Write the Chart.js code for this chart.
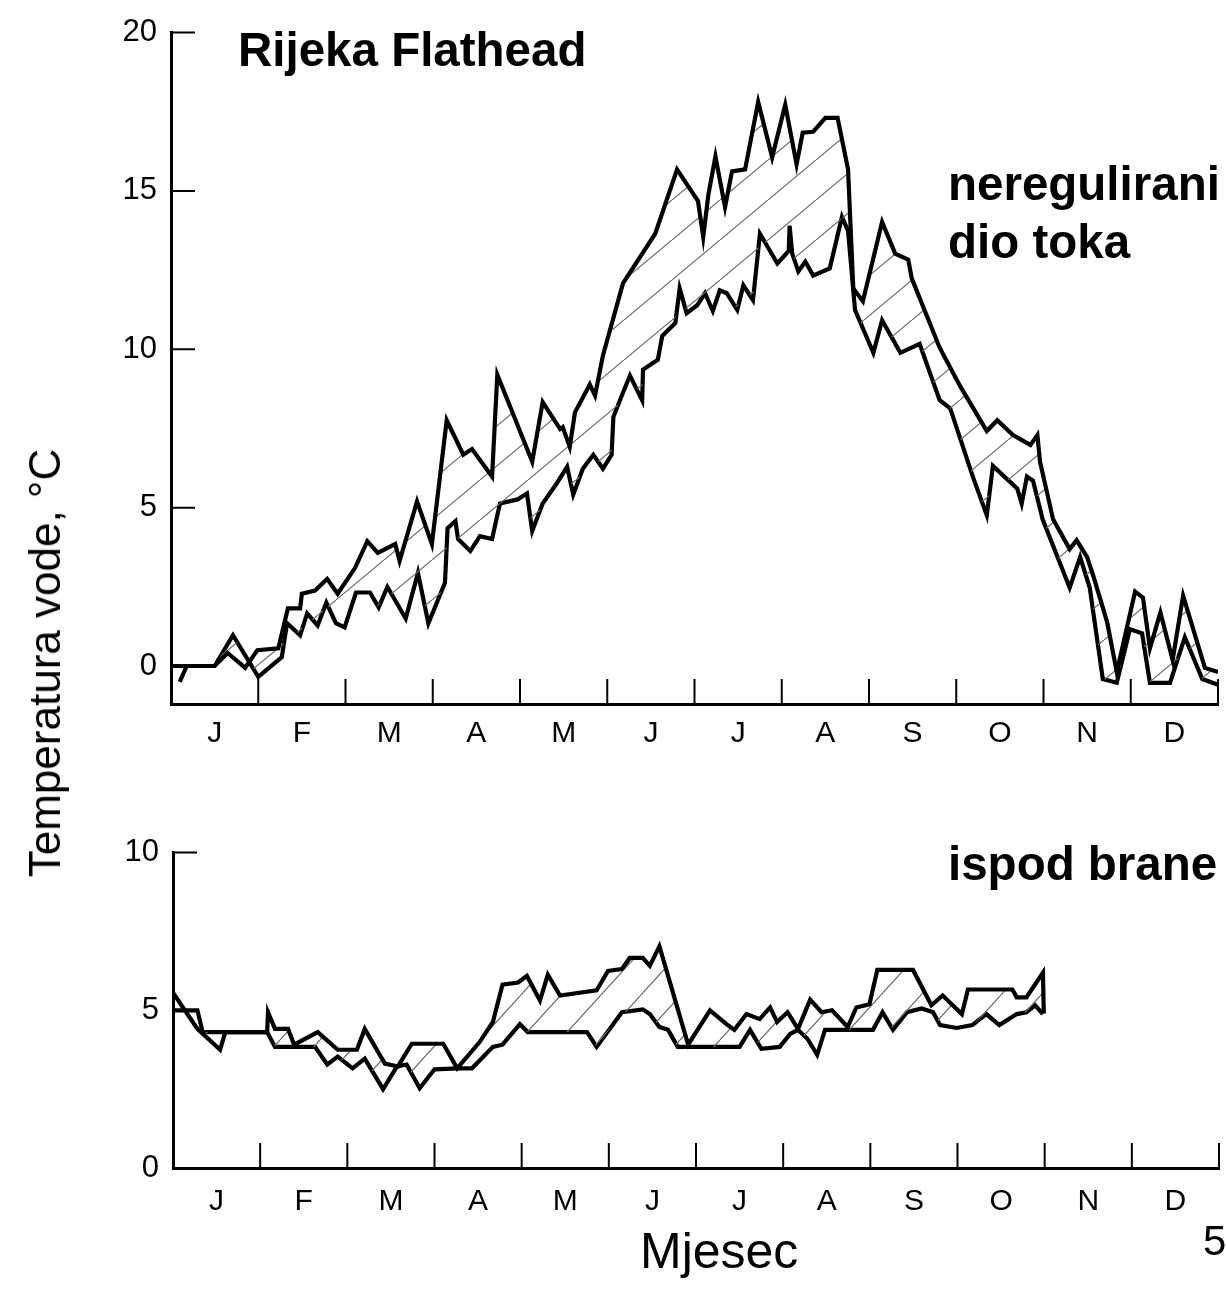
<!DOCTYPE html>
<html>
<head>
<meta charset="utf-8">
<title>Rijeka Flathead - temperatura vode</title>
<script src="https://cdn.jsdelivr.net/npm/chart.js@4.4.1/dist/chart.umd.min.js"></script>
<style>
  html, body { margin: 0; padding: 0; background: #fff; }
  body {
    position: relative; width: 1226px; height: 1309px; overflow: hidden;
    font-family: "Liberation Sans", Arial, Helvetica, sans-serif; color: #000;
  }
  canvas { position: absolute; left: 0; }
  #topChart { top: 0; }
  #bottomChart { top: 820px; }
  .label { position: absolute; white-space: nowrap; line-height: 1; }
  .bold { font-weight: bold; font-size: 47.5px; }
  #yTitle { font-size: 44px; left: 45px; top: 663px; transform: translate(-50%, -50%) rotate(-90deg); }
  #xTitle { font-size: 50px; left: 640px; top: 1226px; }
  #pageNo { font-size: 42px; left: 1203px; top: 1220px; }
</style>
</head>
<body>
<canvas id="topChart" width="1226" height="760"></canvas>
<canvas id="bottomChart" width="1226" height="420"></canvas>

<div class="label bold" style="left:238px;top:26px">Rijeka Flathead</div>
<div class="label bold" style="left:948px;top:160px">neregulirani</div>
<div class="label bold" style="left:948px;top:218px">dio toka</div>
<div class="label bold" style="left:948px;top:840px">ispod brane</div>
<div class="label" id="yTitle">Temperatura vode, °C</div>
<div class="label" id="xTitle">Mjesec</div>
<div class="label" id="pageNo">54</div>

<script>
const FONT = '"Liberation Sans", Arial, sans-serif';
Chart.defaults.font.family = FONT;
Chart.defaults.color = '#000';

const MONTHS = ['J', 'F', 'M', 'A', 'M', 'J', 'J', 'A', 'S', 'O', 'N', 'D'];
const TOP_Y_TICKS = [0, 5, 10, 15, 20];
const BOTTOM_Y_TICKS = [0, 5, 10];

// unregulated reach - upper envelope (x in months from 1 Jan)
const TOP_MAX_MONTH = [0.00, 0.50, 0.65, 0.85, 0.99, 1.23, 1.34, 1.48, 1.50, 1.65, 1.79, 1.91, 2.11, 2.25, 2.37, 2.57, 2.62, 2.82, 2.99, 3.16, 3.35, 3.45, 3.68, 3.74, 4.14, 4.26, 4.46, 4.49, 4.57, 4.63, 4.80, 4.86, 4.95, 5.18, 5.55, 5.80, 6.04, 6.10, 6.16, 6.24, 6.35, 6.43, 6.58, 6.73, 6.89, 7.04, 7.17, 7.24, 7.36, 7.50, 7.64, 7.76, 7.82, 7.93, 8.15, 8.30, 8.45, 8.49, 8.81, 9.04, 9.35, 9.47, 9.65, 9.85, 9.93, 9.96, 10.11, 10.30, 10.38, 10.50, 10.57, 10.73, 10.84, 11.05, 11.14, 11.22, 11.34, 11.48, 11.60, 11.85, 12.00];
const TOP_MAX_TEMP = [0.0, 0.0, 0.41, -0.06, 0.50, 0.56, 1.82, 1.82, 2.28, 2.38, 2.75, 2.28, 3.10, 3.94, 3.57, 3.85, 3.32, 5.20, 3.85, 7.76, 6.67, 6.85, 5.98, 9.20, 6.45, 8.33, 7.48, 7.54, 6.92, 8.01, 8.89, 8.54, 9.80, 12.08, 13.65, 15.68, 14.68, 13.55, 14.90, 16.09, 14.49, 15.62, 15.68, 17.81, 16.06, 17.72, 15.84, 16.84, 16.87, 17.31, 17.31, 15.68, 11.92, 11.52, 14.02, 13.02, 12.83, 12.24, 10.05, 8.86, 7.42, 7.76, 7.29, 6.98, 7.29, 6.45, 4.63, 3.69, 3.97, 3.44, 2.85, 1.38, -0.19, 2.35, 2.16, 0.56, 1.69, 0.19, 2.22, -0.06, -0.19];

// unregulated reach - lower envelope
const TOP_MIN_MONTH = [0.10, 0.18, 0.50, 0.71, 1.00, 1.27, 1.33, 1.48, 1.56, 1.68, 1.78, 1.89, 1.99, 2.12, 2.28, 2.38, 2.48, 2.69, 2.83, 2.95, 3.14, 3.17, 3.26, 3.29, 3.43, 3.54, 3.68, 3.77, 3.97, 4.08, 4.14, 4.26, 4.42, 4.54, 4.61, 4.72, 4.84, 4.95, 5.05, 5.07, 5.15, 5.26, 5.40, 5.41, 5.58, 5.63, 5.78, 5.83, 5.91, 6.03, 6.12, 6.21, 6.29, 6.37, 6.49, 6.56, 6.67, 6.75, 6.95, 7.08, 7.09, 7.12, 7.19, 7.27, 7.36, 7.55, 7.69, 7.76, 7.84, 8.05, 8.15, 8.36, 8.58, 8.81, 8.93, 9.19, 9.35, 9.42, 9.70, 9.75, 9.81, 9.88, 9.99, 10.30, 10.42, 10.53, 10.68, 10.84, 10.99, 11.13, 11.22, 11.45, 11.62, 11.82, 12.00];
const TOP_MIN_TEMP = [-0.50, 0.0, 0.0, 0.97, -0.34, 0.28, 1.35, 0.97, 1.66, 1.28, 2.00, 1.35, 1.22, 2.32, 2.32, 1.85, 2.50, 1.50, 2.94, 1.35, 2.63, 4.35, 4.57, 4.01, 3.63, 4.10, 4.01, 5.13, 5.26, 5.45, 4.26, 5.13, 5.76, 6.29, 5.41, 6.23, 6.67, 6.23, 6.67, 7.86, 8.42, 9.17, 8.39, 9.36, 9.67, 10.42, 10.83, 11.92, 11.14, 11.39, 11.77, 11.21, 11.86, 11.77, 11.24, 12.02, 11.55, 13.65, 12.71, 13.11, 13.90, 13.02, 12.46, 12.77, 12.33, 12.55, 14.18, 13.74, 11.24, 9.89, 10.92, 9.89, 10.17, 8.39, 8.14, 5.98, 4.76, 6.32, 5.60, 5.13, 5.98, 5.85, 4.63, 2.47, 3.44, 2.47, -0.41, -0.53, 1.16, 1.03, -0.53, -0.53, 0.91, -0.41, -0.59];

// below the dam - upper envelope
const DAM_MAX_MONTH = [0.00, 0.28, 0.54, 0.60, 1.08, 1.09, 1.17, 1.32, 1.39, 1.66, 1.89, 2.11, 2.20, 2.43, 2.58, 2.74, 3.10, 3.26, 3.52, 3.67, 3.78, 3.96, 4.06, 4.21, 4.30, 4.44, 4.86, 4.99, 5.15, 5.24, 5.39, 5.47, 5.58, 5.91, 6.16, 6.35, 6.44, 6.58, 6.73, 6.85, 6.93, 7.05, 7.17, 7.31, 7.44, 7.56, 7.74, 7.84, 7.99, 8.08, 8.49, 8.70, 8.83, 9.05, 9.12, 9.63, 9.68, 9.79, 9.98, 9.99];
const DAM_MAX_TEMP = [5.56, 4.41, 3.75, 4.31, 4.31, 4.94, 4.41, 4.41, 3.91, 4.31, 3.75, 3.75, 4.41, 3.31, 3.22, 3.94, 3.94, 3.16, 4.00, 4.63, 5.81, 5.88, 6.09, 5.31, 6.13, 5.47, 5.63, 6.25, 6.31, 6.66, 6.66, 6.41, 7.03, 3.91, 5.00, 4.56, 4.38, 4.88, 4.72, 5.09, 4.63, 4.94, 4.41, 5.34, 4.94, 5.00, 4.47, 5.09, 5.19, 6.28, 6.28, 5.16, 5.47, 4.88, 5.66, 5.66, 5.41, 5.41, 6.19, 4.90];

// below the dam - lower envelope
const DAM_MIN_MONTH = [0.00, 0.28, 0.34, 1.08, 1.17, 1.63, 1.77, 1.89, 2.06, 2.20, 2.41, 2.57, 2.68, 2.83, 3.00, 3.26, 3.43, 3.67, 3.78, 3.98, 4.07, 4.75, 4.86, 5.15, 5.39, 5.47, 5.58, 5.68, 5.79, 5.91, 6.50, 6.62, 6.75, 6.96, 7.08, 7.17, 7.28, 7.39, 7.48, 8.03, 8.14, 8.26, 8.42, 8.59, 8.72, 8.80, 8.99, 9.17, 9.33, 9.48, 9.68, 9.79, 9.89, 9.98];
const DAM_MIN_TEMP = [5.00, 5.00, 4.31, 4.31, 3.84, 3.84, 3.28, 3.53, 3.16, 3.47, 2.50, 3.22, 3.28, 2.53, 3.13, 3.16, 3.16, 3.84, 3.91, 4.56, 4.31, 4.31, 3.84, 4.94, 5.03, 4.88, 4.47, 4.38, 3.84, 3.84, 3.84, 4.38, 3.78, 3.84, 4.25, 4.38, 4.09, 3.59, 4.38, 4.38, 4.94, 4.38, 4.94, 5.06, 4.94, 4.53, 4.44, 4.53, 4.88, 4.53, 4.88, 4.94, 5.16, 4.88];

const pts = (xs, ys) => xs.map((x, i) => ({ x: x, y: ys[i] }));

// thin diagonal hatching for the band between the two envelopes
function hatch(w, h) {
  const c = document.createElement('canvas');
  c.width = w; c.height = h;
  const g = c.getContext('2d');
  g.strokeStyle = '#6e6e6e';
  g.lineWidth = 1.2;
  g.beginPath();
  for (let k = -1; k <= 1; k++) {
    g.moveTo(k * w, h);
    g.lineTo(k * w + w, 0);
  }
  g.stroke();
  return g.createPattern(c, 'repeat');
}

// short tick marks pointing into the plot, at y ticks and month boundaries
const inwardTicks = {
  id: 'inwardTicks',
  afterDraw(chart) {
    const { ctx, chartArea: a, scales: { x, y } } = chart;
    ctx.save();
    ctx.strokeStyle = '#000';
    ctx.lineWidth = 2;
    ctx.beginPath();
    y.ticks.forEach(t => {
      const py = y.getPixelForValue(t.value);
      ctx.moveTo(a.left, py);
      ctx.lineTo(a.left + 24, py);
    });
    for (let m = 1; m <= MONTHS.length; m++) {
      const px = x.getPixelForValue(m);
      ctx.moveTo(px, a.bottom);
      ctx.lineTo(px, a.bottom - 25);
    }
    ctx.stroke();
    ctx.restore();
  }
};

function line(data, fill, bg) {
  return {
    data: data,
    borderColor: '#000',
    borderWidth: 4.2,
    borderJoinStyle: 'miter',
    pointRadius: 0,
    tension: 0,
    fill: fill,
    backgroundColor: bg
  };
}

function makeChart(id, upper, lower, opts) {
  return new Chart(document.getElementById(id), {
    type: 'line',
    data: {
      datasets: [
        line(upper, '+1', opts.pattern),
        line(lower, false, 'transparent')
      ]
    },
    options: {
      responsive: false,
      animation: false,
      events: [],
      layout: { padding: opts.padding },
      plugins: { legend: { display: false }, tooltip: { enabled: false } },
      scales: {
        x: {
          type: 'linear',
          min: 0,
          max: 12,
          grid: { display: false, drawTicks: false },
          border: { display: true, color: '#000', width: 3 },
          afterBuildTicks: s => { s.ticks = MONTHS.map((_, i) => ({ value: i + 0.5 })); },
          afterFit: s => { s.height = opts.xHeight; },
          ticks: {
            autoSkip: false,
            maxRotation: 0,
            padding: opts.xPad,
            font: { size: 30 },
            callback: v => MONTHS[Math.floor(v)]
          }
        },
        y: {
          min: opts.yMin,
          max: opts.yMax,
          grid: { display: false, drawTicks: false },
          border: { display: true, color: '#000', width: 3 },
          afterBuildTicks: s => { s.ticks = opts.yTicks.map(v => ({ value: v })); },
          afterFit: s => { s.width = opts.yWidth; },
          ticks: { padding: 14, font: { size: 31 } }
        }
      }
    },
    plugins: [inwardTicks]
  });
}

makeChart('topChart', pts(TOP_MAX_MONTH, TOP_MAX_TEMP), pts(TOP_MIN_MONTH, TOP_MIN_TEMP), {
  pattern: hatch(48, 40),
  padding: { left: 0, top: 27, right: 8, bottom: 0 },
  xHeight: 56, xPad: 12, yWidth: 171,
  yMin: -1.2, yMax: 20, yTicks: TOP_Y_TICKS
});

makeChart('bottomChart', pts(DAM_MAX_MONTH, DAM_MAX_TEMP), pts(DAM_MIN_MONTH, DAM_MIN_TEMP), {
  pattern: hatch(40, 44),
  padding: { left: 0, top: 28, right: 7, bottom: 0 },
  xHeight: 72, xPad: 16, yWidth: 173,
  yMin: 0, yMax: 10, yTicks: BOTTOM_Y_TICKS
});
</script>
</body>
</html>
